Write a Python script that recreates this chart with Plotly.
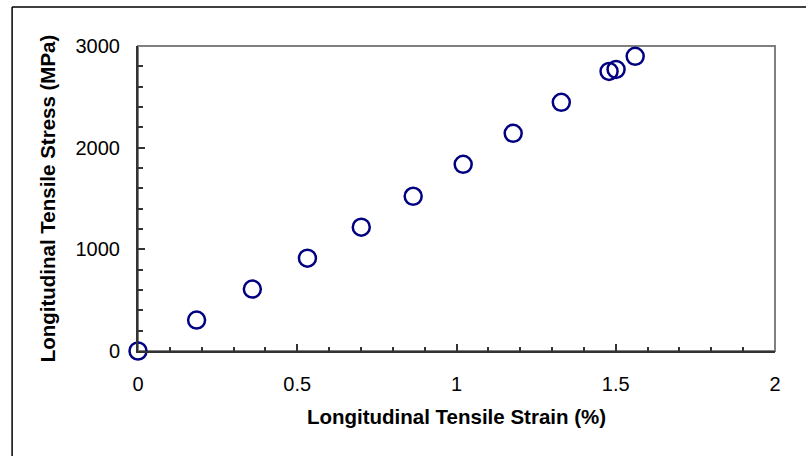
import plotly.graph_objects as go

strain = [0.0, 0.184, 0.359, 0.532, 0.701, 0.864, 1.021, 1.178, 1.329, 1.479, 1.501, 1.561]
stress = [0, 304, 609, 913, 1218, 1522, 1836, 2141, 2446, 2750, 2770, 2898]

x_ticks = [0, 0.5, 1, 1.5, 2]
x_labels = ["0", "0.5", "1", "1.5", "2"]
y_ticks = [0, 1000, 2000, 3000]
y_labels = ["0", "1000", "2000", "3000"]

W, H = 806, 456
L, R, T, B = 137.5, 31, 45.5, 105
pw, ph = W - L - R, H - T - B

fig = go.Figure()
fig.add_trace(go.Scatter(
    x=strain, y=stress, mode="markers", cliponaxis=False,
    marker=dict(symbol="circle-open", size=17, color="#000080",
                line=dict(width=2.5, color="#000080")),
    showlegend=False,
))

font = dict(family="Liberation Sans, Arial, sans-serif", color="black")

fig.update_layout(
    width=W, height=H,
    margin=dict(l=L, r=R, t=T, b=B, pad=0),
    paper_bgcolor="white", plot_bgcolor="white",
    font=dict(**font, size=20),
    xaxis=dict(range=[0, 2], tickvals=x_ticks, ticktext=x_labels,
               showgrid=False, zeroline=False, showline=True, linecolor="#333",
               linewidth=2, ticks="inside", ticklen=7, tickwidth=1.5, tickcolor="#333",
               minor=dict(dtick=0.1, ticks="inside", ticklen=4, tickwidth=1.5, tickcolor="#333"),
               title=dict(text="<b>Longitudinal Tensile Strain (%)</b>", font=dict(size=20.5), standoff=16),
               ticklabelstandoff=14),
    yaxis=dict(range=[0, 3000], tickvals=y_ticks, ticktext=y_labels,
               showgrid=False, zeroline=False, showline=True, linecolor="#333",
               linewidth=2, ticks="inside", ticklen=7, tickwidth=1.5, tickcolor="#333",
               minor=dict(dtick=200, ticks="inside", ticklen=5, tickwidth=1.5, tickcolor="#333"),
               title=dict(text="<b>Longitudinal Tensile Stress (MPa)</b>", font=dict(size=20.5), standoff=14),
               ticklabelstandoff=12),
    shapes=[
        dict(type="rect", xref="paper", yref="paper", x0=0, x1=1, y0=0, y1=1,
             line=dict(color="#808080", width=2), layer="below"),
        dict(type="line", xref="paper", yref="paper",
             x0=(11.5 - L) / pw, x1=(11.5 - L) / pw,
             y0=1 + (T - 6.5) / ph, y1=-(B + 5) / ph,
             line=dict(color="black", width=1.5)),
        dict(type="line", xref="paper", yref="paper",
             x0=(11.5 - L) / pw, x1=1 + (R + 5) / pw,
             y0=1 + (T - 6.5) / ph, y1=1 + (T - 6.5) / ph,
             line=dict(color="black", width=1.5)),
    ],
)

fig.write_html("out.html", config={"displayModeBar": False},
               post_script="document.body.style.margin='0';document.body.style.overflow='hidden';")
